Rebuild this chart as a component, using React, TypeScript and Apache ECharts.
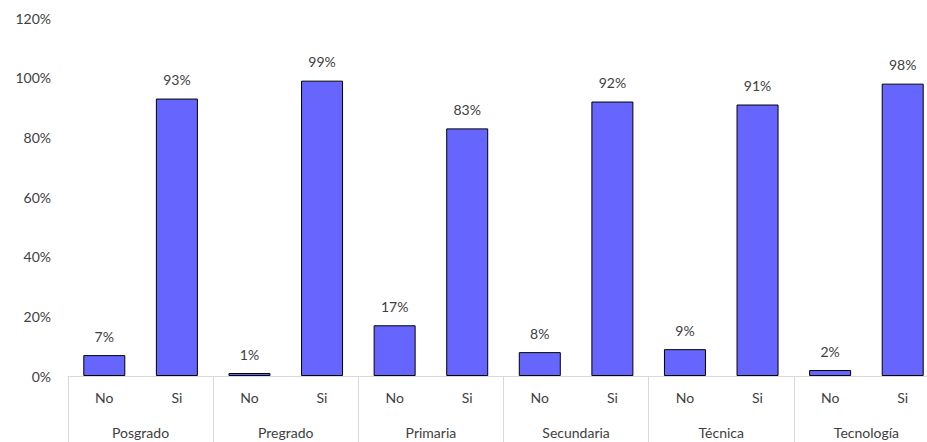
import React, { useEffect, useRef } from "react";
import * as echarts from "echarts";

// Response share (%) by education level
const groups = ["Posgrado", "Pregrado", "Primaria", "Secundaria", "Técnica", "Tecnología"];
const answers = ["No", "Si"];
const values = [7, 93, 1, 99, 17, 83, 8, 92, 9, 91, 2, 98];
const yTicks = [0, 20, 40, 60, 80, 100, 120];

const FONT = "Lato, 'Open Sans', sans-serif";
const TEXT = "#404040";
const LINE = "#d9d9d9";

export default function App() {
  const ref = useRef<HTMLDivElement>(null);

  useEffect(() => {
    if (!ref.current) return;
    const chart = echarts.init(ref.current, undefined, { renderer: "svg" });
    const inner = groups.flatMap(() => answers);

    chart.setOption({
      animation: false,
      textStyle: { fontFamily: FONT },
      grid: { left: 68, right: 0, top: 18, bottom: 66 },
      xAxis: [
        {
          type: "category",
          data: inner,
          position: "bottom",
          axisLine: { show: true, lineStyle: { color: LINE, width: 1 } },
          axisTick: { show: false },
          axisLabel: { color: TEXT, fontSize: 14, fontFamily: FONT, margin: 14, interval: 0 },
        },
        {
          type: "category",
          data: groups,
          position: "bottom",
          offset: 0,
          axisLine: { show: false },
          axisTick: { show: true, length: 66, lineStyle: { color: LINE, width: 1 } },
          axisLabel: { color: TEXT, fontSize: 14, fontFamily: FONT, margin: 49, interval: 0 },
        },
      ],
      yAxis: {
        type: "value",
        min: yTicks[0],
        max: yTicks[yTicks.length - 1],
        interval: 20,
        axisLine: { show: false },
        axisTick: { show: false },
        splitLine: { show: false },
        axisLabel: {
          color: TEXT,
          fontSize: 14,
          fontFamily: FONT,
          margin: 17,
          formatter: (v: number) => `${v}%`,
        },
      },
      series: [
        {
          type: "bar",
          xAxisIndex: 0,
          data: values,
          barWidth: 42,
          itemStyle: { color: "#6666FF", borderColor: "#000000", borderWidth: 1 },
          label: {
            show: true,
            position: "top",
            distance: 12,
            color: TEXT,
            fontSize: 14,
            fontFamily: FONT,
            formatter: (p: any) => `${p.value}%`,
          },
        },
      ],
    });

    return () => chart.dispose();
  }, []);

  // The plot runs a little past the right edge of the visible frame
  return (
    <div
      style={{
        position: "fixed",
        left: 0,
        top: 0,
        width: 927,
        height: 442,
        overflow: "hidden",
        background: "#fff",
      }}
    >
      <div ref={ref} style={{ width: 939, height: 442 }} />
    </div>
  );
}
